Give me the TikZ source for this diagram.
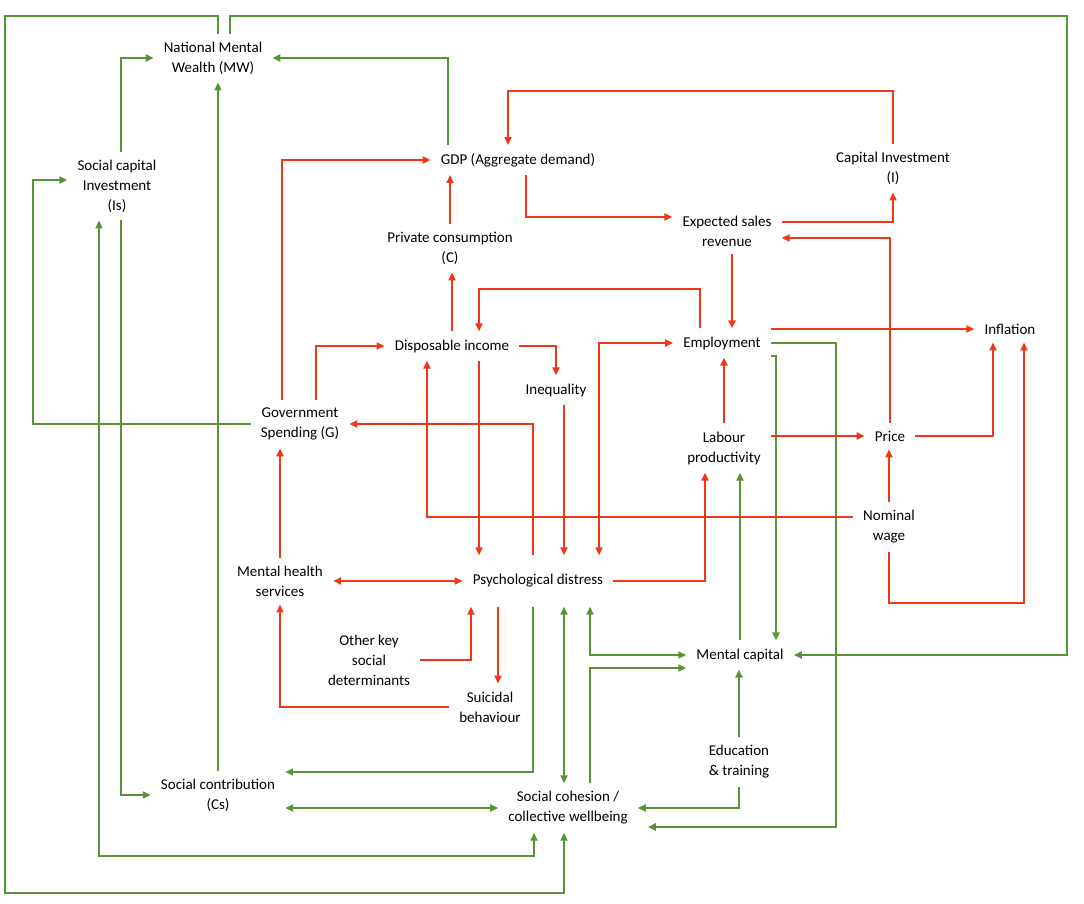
\documentclass[tikz,border=0pt]{standalone}
\usepackage{fontspec}
\setmainfont{Carlito}
\usetikzlibrary{arrows.meta}
\definecolor{linkred}{RGB}{238,56,24}
\definecolor{linkgreen}{RGB}{86,148,52}

\begin{document}
\begin{tikzpicture}[
    x=1pt, y=-1pt, % pixel units, y grows downward
    >={Triangle[length=8pt,width=7pt]},
    var/.style={align=center, font=\fontsize{15}{20}\selectfont, inner xsep=10pt, inner ysep=8pt},
    redarrow/.style={->, line width=2.3pt, draw=linkred},
    greenarrow/.style={->, line width=2.3pt, draw=linkgreen}
]
\useasboundingbox (0,0) rectangle (1084,903);

% Variables
\node (nmw) at (213,58) [var] {National Mental\\Wealth (MW)};
\node (sci) at (117,186) [var] {Social capital\\Investment\\(Is)};
\node (gdp) at (518,160) [var] {GDP (Aggregate demand)};
\node (ci) at (893,168) [var] {Capital Investment\\(I)};
\node (pc) at (450,248) [var] {Private consumption\\(C)};
\node (esr) at (727,231) [var] {Expected sales\\revenue};
\node (di) at (452,346) [var] {Disposable income};
\node (emp) at (722,343) [var] {Employment};
\node (infl) at (1010,329) [var] {Inflation};
\node (ineq) at (556,390) [var] {Inequality};
\node (gov) at (300,424) [var] {Government\\Spending (G)};
\node (lp) at (724,448) [var] {Labour\\productivity};
\node (price) at (890,436) [var] {Price};
\node (nw) at (889,527) [var] {Nominal\\wage};
\node (mhs) at (280,581) [var] {Mental health\\services};
\node (pd) at (538,581) [var, inner ysep=19pt] {Psychological distress};
\node (oksd) at (369,660) [var] {Other key\\social\\determinants};
\node (sb) at (490,707) [var] {Suicidal\\behaviour};
\node (mc) at (740,655) [var] {Mental capital};
\node (edu) at (739,762) [var] {Education\\\& training};
\node (cs) at (218,795) [var] {Social contribution\\(Cs)};
\node (coh) at (568,808) [var] {Social cohesion /\\collective wellbeing};

% Green links
\draw [greenarrow] ([xshift=5pt]nmw.north) |- (5,16) -- (5,893) -| ([xshift=-4pt]coh.south);
\draw [greenarrow] ([xshift=17pt]nmw.north) |- (1067,16) |- (mc.east);
\draw [greenarrow] ([xshift=4pt]sci.north) |- (nmw.west);
\draw [greenarrow] ([xshift=-70pt]gdp.north) |- (nmw.east);
\draw [greenarrow] (gov.west) -| (33,180) -- ([yshift=6pt]sci.west);
\draw [greenarrow] (cs.north) -- (cs.north |- nmw.south);
\draw [greenarrow] ([xshift=4pt]sci.south) |- (cs.west);
\draw [greenarrow, <->] ([xshift=-18pt]sci.south) -- (99,856) -| ([xshift=-34pt]coh.south);
\draw [greenarrow] ([xshift=-5pt]pd.south) |- ([yshift=23pt]cs.east);
\draw [greenarrow, <->] (cs.east |- coh.west) -- (coh.west);
\draw [greenarrow, <->] ([xshift=-4pt]coh.north |- pd.south) -- ([xshift=-4pt]coh.north);
\draw [greenarrow, <->] ([xshift=52pt]pd.south) |- (mc.west);
\draw [greenarrow] ([xshift=22pt]coh.north) |- ([yshift=-13pt]mc.west);
\draw [greenarrow] (edu.north) -- (edu.north |- mc.south);
\draw [greenarrow] (edu.south) |- (coh.east);
\draw [greenarrow] (emp.east) -| (836,827) -- ([xshift=10pt,yshift=-19pt]coh.east);
\draw [greenarrow] ([yshift=-13pt]emp.east) -| ([xshift=36pt]mc.north);
\draw [greenarrow] (mc.north) -- (mc.north |- lp.south);

% Red links
\draw [redarrow] (ci.north) |- (700,91) -| ([xshift=-10pt]gdp.north);
\draw [redarrow] ([xshift=8pt]gdp.south) |- ([yshift=14pt]esr.west);
\draw [redarrow] ([yshift=9pt]esr.east) -| (ci.south);
\draw [redarrow] (price.north) |- ([yshift=-7pt]esr.east);
\draw [redarrow] (pc.north) -- (pc.north |- gdp.south);
\draw [redarrow] (di.north) -- (di.north |- pc.south);
\draw [redarrow] ([xshift=-22pt]emp.north) |- (600,289) -| ([xshift=27pt]di.north);
\draw [redarrow] ([xshift=5pt]esr.south) -- ([xshift=5pt]esr.south |- emp.north);
\draw [redarrow] ([xshift=-18pt]gov.north) |- (gdp.west);
\draw [redarrow] ([xshift=16pt]gov.north) |- (di.west);
\draw [redarrow] (di.east) -| (ineq.north);
\draw [redarrow] ([xshift=27pt]di.south) -- ([xshift=-59pt]pd.north);
\draw [redarrow] ([xshift=8pt]ineq.south) -- ([xshift=26pt]pd.north);
\draw [redarrow] ([xshift=-5pt]pd.north) |- (gov.east);
\draw [redarrow, <->] ([xshift=61pt]pd.north) |- (emp.west);
\draw [redarrow] ([yshift=10pt]nw.west) -| ([xshift=-25pt]di.south);
\draw [redarrow] (lp.north) -- (lp.north |- emp.south);
\draw [redarrow] (lp.east |- price.west) -- (price.west);
\draw [redarrow] (price.east) -| ([xshift=-17pt]infl.south);
\draw [redarrow] (emp.east |- infl.west) -- (infl.west);
\draw [redarrow] (nw.north) -- (nw.north |- price.south);
\draw [redarrow] (nw.south) |- (950,603) -| ([xshift=14pt]infl.south);
\draw [redarrow] (pd.east) -| ([xshift=-19pt]lp.south);
\draw [redarrow, <->] (mhs.east |- pd.west) -- (pd.west);
\draw [redarrow] (mhs.north) -- (mhs.north |- gov.south);
\draw [redarrow] (oksd.east) -| ([xshift=-67pt]pd.south);
\draw [redarrow] ([xshift=8pt]sb.north |- pd.south) -- ([xshift=8pt]sb.north);
\draw [redarrow] (sb.west) -| (mhs.south);

\end{tikzpicture}
\end{document}
